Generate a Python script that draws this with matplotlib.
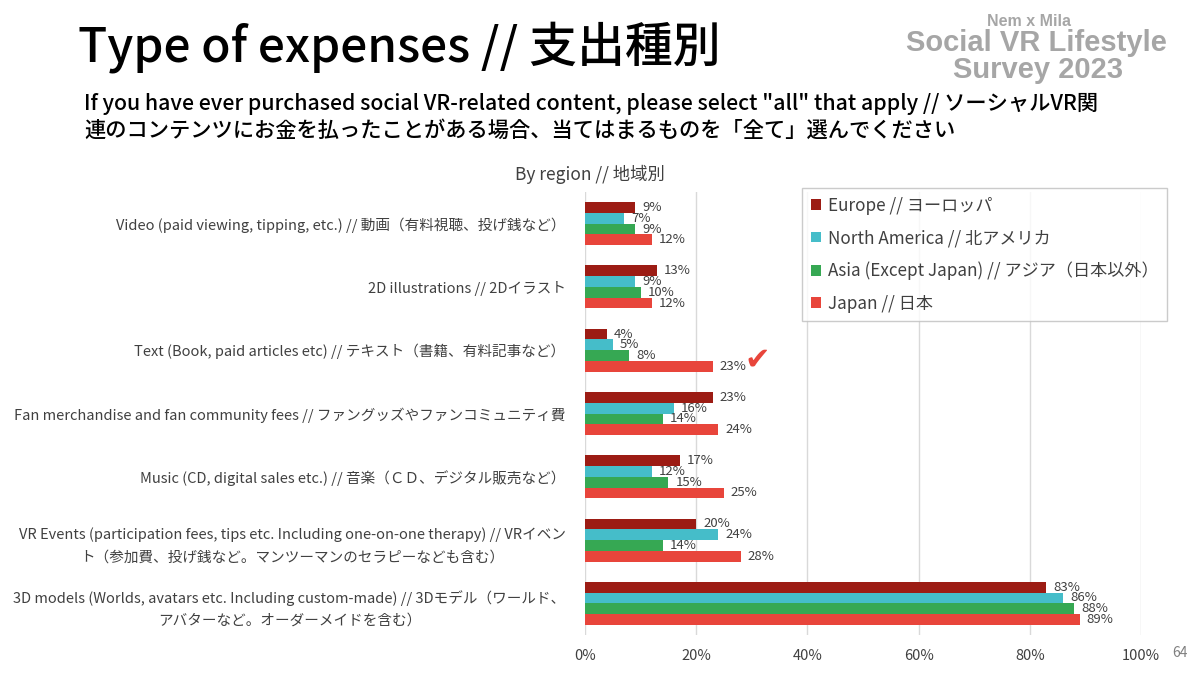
import matplotlib
matplotlib.use("Agg")
import matplotlib.pyplot as plt
import numpy as np

JP = ["Noto Sans CJK JP", "DejaVu Sans"]
plt.rcParams["font.family"] = JP

categories = [
    "Video (paid viewing, tipping, etc.) // 動画（有料視聴、投げ銭など）",
    "2D illustrations // 2Dイラスト",
    "Text (Book, paid articles etc) // テキスト（書籍、有料記事など）",
    "Fan merchandise and fan community fees // ファングッズやファンコミュニティ費",
    "Music (CD, digital sales etc.) // 音楽（ＣＤ、デジタル販売など）",
    "VR Events (participation fees, tips etc. Including one-on-one therapy) // VRイベン\nト（参加費、投げ銭など。マンツーマンのセラピーなども含む）",
    "3D models (Worlds, avatars etc. Including custom-made) // 3Dモデル（ワールド、\nアバターなど。オーダーメイドを含む）",
]
regions = [
    "Europe // ヨーロッパ",
    "North America // 北アメリカ",
    "Asia (Except Japan) // アジア（日本以外）",
    "Japan // 日本",
]
europe = [9, 13, 4, 23, 17, 20, 83]
north_america = [7, 9, 5, 16, 12, 24, 86]
asia = [9, 10, 8, 14, 15, 14, 88]
japan = [12, 12, 23, 24, 25, 28, 89]
xticks = [0, 20, 40, 60, 80, 100]

COLORS = ["#9c1c14", "#45bdc9", "#36a853", "#e8453b"]
TEXT_GRAY = "#404040"

fig = plt.figure(figsize=(12, 6.75), dpi=100)
fig.patch.set_facecolor("white")
ax = fig.add_axes([585 / 1200, 1 - 635 / 675, 556 / 1200, 443 / 675])

y = np.arange(len(categories))
h = 0.17
for i, (vals, col, lab) in enumerate(zip([europe, north_america, asia, japan], COLORS, regions)):
    bars = ax.barh(y + (i - 1.5) * h, vals, height=h, color=col, label=lab, zorder=3)
    ax.bar_label(bars, labels=[f"{v}%" for v in vals], padding=5,
                 fontsize=9.5, color=TEXT_GRAY)

ax.set_ylim(len(categories) - 0.5, -0.5)
ax.set_xlim(0, 100)
ax.set_xticks(xticks)
ax.set_xticklabels([f"{t}%" for t in xticks], fontsize=10.5, color=TEXT_GRAY)
ax.set_yticks(y)
ax.set_yticklabels(categories, fontsize=10.5, color=TEXT_GRAY,
                   multialignment="center", linespacing=1.75)
ax.tick_params(axis="both", length=0)
ax.tick_params(axis="y", pad=14)
ax.tick_params(axis="x", pad=10)
ax.grid(axis="x", color="#d9d9d9", linewidth=1, zorder=0)
for s in ax.spines.values():
    s.set_visible(False)

leg = ax.legend(loc="upper left", fontsize=12.3, borderaxespad=0,
                frameon=True, fancybox=False, edgecolor="#bfbfbf",
                handlelength=0.6, handleheight=0.6, handletextpad=0.4,
                labelspacing=0.85, borderpad=0.5, labelcolor=TEXT_GRAY)
leg.get_frame().set_linewidth(1)
leg.set_bbox_to_anchor((802 / 1200, 1 - 188 / 675), transform=fig.transFigure)

# check mark next to Japan / Text
ax.text(31, 2 + 1.5 * h - 0.1, "✔", family=["DejaVu Sans"], fontsize=22,
        color="#e8453b", va="center", ha="center")

fig.text(78 / 1200, 1 - 47 / 675, "Type of expenses // 支出種別", fontsize=34.5,
         weight="medium", color="black", va="center", ha="left")
fig.text(84 / 1200, 1 - 104 / 675,
         "If you have ever purchased social VR-related content, please select \"all\" that apply // ソーシャルVR関",
         fontsize=15.3, weight="medium", color="black", va="center", ha="left")
fig.text(84 / 1200, 1 - 131 / 675,
         "連のコンテンツにお金を払ったことがある場合、当てはまるものを「全て」選んでください",
         fontsize=15.3, weight="medium", color="black", va="center", ha="left")
fig.text(590 / 1200, 1 - 174 / 675, "By region // 地域別", fontsize=12.5,
         color=TEXT_GRAY, va="center", ha="center")

LOGO = "#a6a6a6"
fig.text(1029 / 1200, 1 - 21 / 675, "Nem x Mila", family=["Liberation Sans"],
         weight="bold", fontsize=11.5, color=LOGO, va="center", ha="center")
fig.text(1036 / 1200, 1 - 43 / 675, "Social VR Lifestyle", family=["Liberation Sans"],
         weight="bold", fontsize=21, color=LOGO, va="center", ha="center")
fig.text(1038 / 1200, 1 - 70 / 675, "Survey 2023", family=["Liberation Sans"],
         weight="bold", fontsize=21, color=LOGO, va="center", ha="center")

fig.text(1172 / 1200, 1 - 653 / 675, "64", fontsize=10, color="#7f7f7f",
         va="center", ha="left")

fig.savefig("out.png", dpi=100, facecolor="white")
